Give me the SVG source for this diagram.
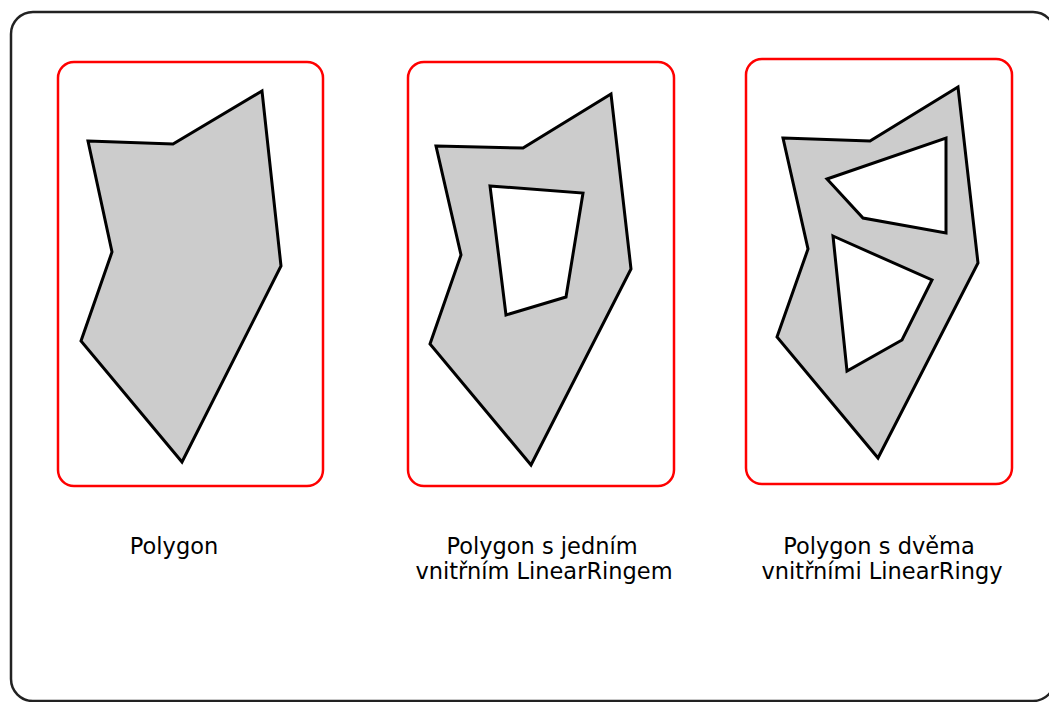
<svg xmlns="http://www.w3.org/2000/svg" width="1049" height="702" viewBox="0 0 1049 702">
<style>
.frame{fill:#ffffff;stroke:#222222;stroke-width:2.5}
.box{fill:none;stroke:#ff0000;stroke-width:2.5}
.poly{fill:#cccccc;fill-rule:evenodd;stroke:#000000;stroke-width:3;stroke-linejoin:miter}
.lbl{font-family:"DejaVu Sans",sans-serif;font-size:22.5px;fill:#000000;text-anchor:middle}
</style>
<rect width="1049" height="702" fill="#ffffff"/>
<rect class="frame" x="11" y="12" width="1044" height="689" rx="22"/>
<g id="polygon1">
<rect class="box" x="58" y="62" width="265" height="424" rx="16"/>
<path class="poly" d="M88,141 L173,144 L262,91 L281,266 L182,462 L81,341 L112,252 Z"/>
<text class="lbl" x="174" y="554">Polygon</text>
</g>
<g id="polygon2">
<rect class="box" x="408" y="62" width="266" height="424" rx="16"/>
<path class="poly" d="M436,146 L523,148 L611,94 L631,269 L531,465 L430,344 L461,255 Z M490,186 L583,193 L566,297 L506,315 Z"/>
<text class="lbl" x="542" y="554">Polygon s jedním</text>
<text class="lbl" x="544" y="579">vnitřním LinearRingem</text>
</g>
<g id="polygon3">
<rect class="box" x="746" y="59" width="266" height="425" rx="16"/>
<path class="poly" d="M783,138 L870,141 L958,87 L978,263 L878,458 L777,337 L808,249 Z M827,179 L946,138 L946,233 L863,218 Z M833,236 L932,280 L902,340 L847,371 Z"/>
<text class="lbl" x="879" y="554">Polygon s dvěma</text>
<text class="lbl" x="882" y="579">vnitřními LinearRingy</text>
</g>
<g id="connectors"/>
</svg>
